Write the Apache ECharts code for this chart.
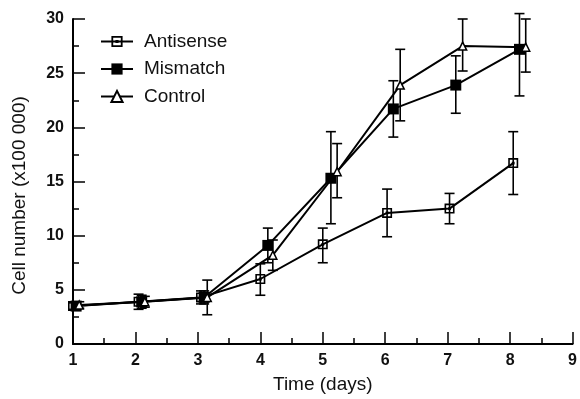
<!DOCTYPE html>
<html><head><meta charset="utf-8">
<script src="https://cdn.jsdelivr.net/npm/echarts@6/dist/echarts.min.js"></script>
<style>html,body{margin:0;padding:0;background:#fff}#c{width:580px;height:399px}</style>
</head><body><div id="c"></div>
<script>
// Data
const seriesNames = ['Antisense', 'Mismatch', 'Control'];
const xTickValues = [1, 2, 3, 4, 5, 6, 7, 8, 9];
const yTickValues = [0, 5, 10, 15, 20, 25, 30];

const antisenseX  = [1.0, 2.05, 3.05, 4.0, 5.0, 6.03, 7.03, 8.05];
const antisenseY  = [3.5, 3.9, 4.3, 6.0, 9.2, 12.1, 12.5, 16.7];
const antisenseLo = [3.2, 3.2, 3.7, 4.5, 7.5, 9.9, 11.1, 13.8];
const antisenseHi = [3.8, 4.6, 4.9, 7.4, 10.7, 14.3, 13.9, 19.6];

const mismatchX  = [1.05, 2.1, 3.1, 4.12, 5.13, 6.13, 7.13, 8.15];
const mismatchY  = [3.5, 3.9, 4.3, 9.1, 15.3, 21.7, 23.9, 27.2];
const mismatchLo = [3.2, 3.3, 3.7, 7.5, 11.1, 19.1, 21.3, 22.9];
const mismatchHi = [3.8, 4.5, 4.9, 10.7, 19.6, 24.3, 26.6, 30.5];

const controlX  = [1.1, 2.15, 3.15, 4.2, 5.23, 6.24, 7.24, 8.25];
const controlY  = [3.6, 3.9, 4.3, 8.2, 15.9, 23.9, 27.5, 27.4];
const controlLo = [3.3, 3.4, 2.7, 6.8, 13.5, 20.6, 25.2, 25.1];
const controlHi = [3.9, 4.4, 5.9, 9.6, 18.5, 27.2, 30.0, 30.0];

const zip2 = (a, b) => a.map((v, i) => [v, b[i]]);
const zip3 = (a, b, c) => a.map((v, i) => [v, b[i], c[i]]);

const FONT = '"Liberation Sans", Arial, sans-serif';
const dotSquare = 'path://M0,0L10,0L10,10L0,10Z M1.6,1.6L1.6,8.4L8.4,8.4L8.4,1.6Z M3.6,3.6L6.4,3.6L6.4,6.4L3.6,6.4Z';

function errRender(params, api) {
  const x = api.value(0), lo = api.value(1), hi = api.value(2);
  const pTop = api.coord([x, hi]), pBot = api.coord([x, lo]);
  const w = 5;
  const st = { stroke: '#000', lineWidth: 1.6 };
  return { type: 'group', children: [
    { type: 'line', shape: { x1: pTop[0], y1: pTop[1], x2: pBot[0], y2: pBot[1] }, style: st },
    { type: 'line', shape: { x1: pTop[0] - w, y1: pTop[1], x2: pTop[0] + w, y2: pTop[1] }, style: st },
    { type: 'line', shape: { x1: pBot[0] - w, y1: pBot[1], x2: pBot[0] + w, y2: pBot[1] }, style: st }
  ]};
}
function errSeries(x, lo, hi) {
  return { type: 'custom', renderItem: errRender, data: zip3(x, lo, hi), clip: false, z: 1, silent: true,
    encode: { x: 0, y: [1, 2] } };
}

const chart = echarts.init(document.getElementById('c'), null, { renderer: 'canvas' });
chart.setOption({
  animation: false,
  backgroundColor: '#fff',
  grid: { left: 73, right: 4, top: 19, bottom: 54, containLabel: false },
  legend: {
    data: seriesNames,
    orient: 'vertical', left: 95, top: 27,
    itemWidth: 32, itemHeight: 14, itemGap: 8.5,
    textStyle: { fontFamily: FONT, fontSize: 19, color: '#111', padding: [0, 0, 0, 6] }
  },
  xAxis: {
    type: 'value', min: 1, max: 9, interval: 1,
    name: 'Time (days)', nameLocation: 'middle', nameGap: 31,
    nameTextStyle: { fontFamily: FONT, fontSize: 19, color: '#111' },
    axisLine: { lineStyle: { color: '#000', width: 2 } },
    axisTick: { inside: true, length: 12, lineStyle: { color: '#000', width: 1.5 } },
    minorTick: { show: true, splitNumber: 2, length: 6, lineStyle: { color: '#000', width: 1.5 } },
    axisLabel: { fontFamily: FONT, fontSize: 16, fontWeight: 'bold', color: '#111', margin: 9,
      formatter: v => xTickValues.includes(v) ? String(v) : '' },
    splitLine: { show: false }
  },
  yAxis: {
    type: 'value', min: 0, max: 30, interval: 5,
    name: 'Cell number (x100 000)', nameLocation: 'middle', nameGap: 44, nameRotate: 90,
    nameTextStyle: { fontFamily: FONT, fontSize: 19, color: '#111', padding: [0, 28, 0, 0] },
    axisLine: { show: true, lineStyle: { color: '#000', width: 2 } },
    axisTick: { show: true, inside: true, length: 12, lineStyle: { color: '#000', width: 1.5 } },
    minorTick: { show: true, splitNumber: 2, length: 6, lineStyle: { color: '#000', width: 1.5 } },
    axisLabel: { fontFamily: FONT, fontSize: 16, fontWeight: 'bold', color: '#111', margin: 9,
      formatter: v => yTickValues.includes(v) ? String(v) : '' },
    splitLine: { show: false }
  },
  series: [
    errSeries(antisenseX, antisenseLo, antisenseHi),
    errSeries(mismatchX, mismatchLo, mismatchHi),
    errSeries(controlX, controlLo, controlHi),
    { name: 'Antisense', type: 'line', data: zip2(antisenseX, antisenseY), z: 3,
      symbol: dotSquare, symbolSize: 10, showAllSymbol: true,
      lineStyle: { color: '#000', width: 2 }, itemStyle: { color: '#000', borderWidth: 0 } },
    { name: 'Mismatch', type: 'line', data: zip2(mismatchX, mismatchY), z: 3,
      symbol: 'rect', symbolSize: 11, showAllSymbol: true,
      lineStyle: { color: '#000', width: 2 }, itemStyle: { color: '#000' } },
    { name: 'Control', type: 'line', data: zip2(controlX, controlY), z: 3,
      symbol: 'triangle', symbolSize: 8, showAllSymbol: true,
      lineStyle: { color: '#000', width: 2 }, itemStyle: { color: '#fff', borderColor: '#000', borderWidth: 1.5 } }
  ]
});
</script></body></html>
